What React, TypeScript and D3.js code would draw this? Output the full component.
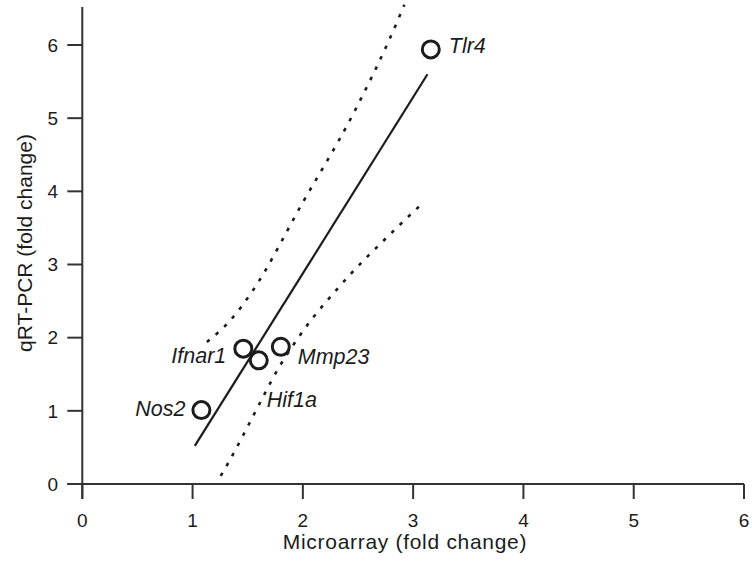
import React, { useEffect, useRef } from 'react';
import * as d3 from 'd3';

// genes measured on both platforms
const genes = ['Nos2', 'Ifnar1', 'Hif1a', 'Mmp23', 'Tlr4'];
const microarray = [1.08, 1.46, 1.6, 1.8, 3.16];
const qrtpcr = [1.01, 1.85, 1.69, 1.875, 5.94];

// regression line and its confidence band
const fitX = [1.02, 3.13];
const fitY = [0.52, 5.6];
const upperX = [1.13, 1.35, 1.54, 2.0, 2.45, 2.85, 2.92];
const upperY = [1.94, 2.25, 2.63, 3.85, 5.04, 6.3, 6.55];
const lowerX = [1.255, 1.339, 1.553, 1.77, 2.02, 2.32, 2.85, 3.08];
const lowerY = [0.11, 0.33, 0.94, 1.56, 2.13, 2.68, 3.5, 3.83];

const xTicks = [0, 1, 2, 3, 4, 5, 6];
const yTicks = [0, 1, 2, 3, 4, 5, 6];

const W = 752;
const H = 561;
const font = '"Liberation Sans", Arial, Helvetica, sans-serif';
const ink = '#1c1c1c';

// where each gene name sits relative to its circle
const labelPlace: Record<string, { dx: number; dy: number; anchor: string }> = {
  Nos2: { dx: -16, dy: -2, anchor: 'end' },
  Ifnar1: { dx: -17, dy: 7, anchor: 'end' },
  Hif1a: { dx: 8, dy: 39.5, anchor: 'start' },
  Mmp23: { dx: 17, dy: 10, anchor: 'start' },
  Tlr4: { dx: 18, dy: -3.5, anchor: 'start' },
};

export default function App() {
  const ref = useRef<SVGSVGElement>(null);

  useEffect(() => {
    const svg = d3.select(ref.current);
    svg.selectAll('*').remove();

    const x = d3.scaleLinear().domain([0, 6]).range([82.3, 744]);
    const y = d3.scaleLinear().domain([0, 6]).range([484, 45]);
    const tickLen = 15;

    const axes = svg.append('g').attr('stroke', '#333').attr('stroke-width', 2).attr('fill', 'none');
    // x axis line, reaching left to meet the y=0 tick
    axes.append('line').attr('x1', x(0) - tickLen).attr('x2', x(6)).attr('y1', y(0)).attr('y2', y(0));
    // y axis line, reaching down as the x=0 tick
    axes.append('line').attr('x1', x(0)).attr('x2', x(0)).attr('y1', y(0) + tickLen).attr('y2', 7);

    xTicks.forEach((t) => {
      axes.append('line').attr('x1', x(t)).attr('x2', x(t)).attr('y1', y(0)).attr('y2', y(0) + tickLen);
    });
    yTicks.forEach((t) => {
      axes.append('line').attr('x1', x(0) - tickLen).attr('x2', x(0)).attr('y1', y(t)).attr('y2', y(t));
    });

    const txt = svg.append('g').attr('font-family', font).attr('fill', ink);
    txt
      .selectAll('text.xt')
      .data(xTicks)
      .join('text')
      .attr('class', 'xt')
      .attr('x', (d) => x(d))
      .attr('y', 526.5)
      .attr('text-anchor', 'middle')
      .attr('font-size', 19)
      .text((d) => d);
    txt
      .selectAll('text.yt')
      .data(yTicks)
      .join('text')
      .attr('class', 'yt')
      .attr('x', 58)
      .attr('y', (d) => y(d) + 6.8)
      .attr('text-anchor', 'end')
      .attr('font-size', 19)
      .text((d) => d);

    txt
      .append('text')
      .attr('x', 405)
      .attr('y', 549)
      .attr('text-anchor', 'middle')
      .attr('font-size', 21)
      .attr('letter-spacing', 0.7)
      .text('Microarray (fold change)');
    txt
      .append('text')
      .attr('transform', 'translate(32,243) rotate(-90)')
      .attr('text-anchor', 'middle')
      .attr('font-size', 21)
      .text('qRT-PCR (fold change)');

    const line = d3
      .line<[number, number]>()
      .x((d) => x(d[0]))
      .y((d) => y(d[1]))
      .curve(d3.curveMonotoneX);

    svg
      .append('path')
      .attr('d', line(d3.zip(fitX, fitY) as [number, number][]))
      .attr('stroke', ink)
      .attr('stroke-width', 2.2)
      .attr('fill', 'none');

    [
      d3.zip(upperX, upperY),
      d3.zip(lowerX, lowerY),
    ].forEach((pts) => {
      svg
        .append('path')
        .attr('d', line(pts as [number, number][]))
        .attr('stroke', ink)
        .attr('stroke-width', 2.6)
        .attr('stroke-dasharray', '3.5 8')
        .attr('fill', 'none');
    });

    const pts = genes.map((g, i) => ({ g, mx: microarray[i], q: qrtpcr[i] }));
    svg
      .append('g')
      .selectAll('circle')
      .data(pts)
      .join('circle')
      .attr('cx', (d) => x(d.mx))
      .attr('cy', (d) => y(d.q))
      .attr('r', 8.5)
      .attr('fill', 'none')
      .attr('stroke', ink)
      .attr('stroke-width', 3);

    svg
      .append('g')
      .attr('font-family', font)
      .attr('font-style', 'italic')
      .attr('font-size', 21.5)
      .attr('fill', ink)
      .selectAll('text')
      .data(pts)
      .join('text')
      .attr('x', (d) => x(d.mx) + labelPlace[d.g].dx)
      .attr('y', (d) => y(d.q) + labelPlace[d.g].dy + 7.5)
      .attr('text-anchor', (d) => labelPlace[d.g].anchor)
      .text((d) => d.g);
  }, []);

  return (
    <svg
      ref={ref}
      width={W}
      height={H}
      viewBox={`0 0 ${W} ${H}`}
      style={{ position: 'absolute', left: 0, top: 0, background: '#fff' }}
    />
  );
}
